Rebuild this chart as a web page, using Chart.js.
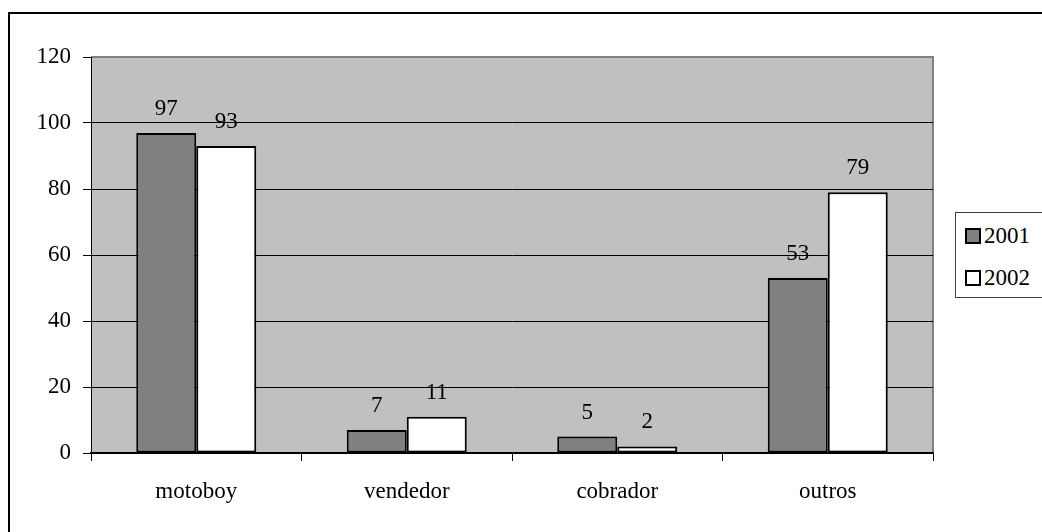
<!DOCTYPE html>
<html>
<head>
<meta charset="utf-8">
<script src="https://cdn.jsdelivr.net/npm/chart.js@4/dist/chart.umd.min.js"></script>
<style>
    html, body { margin: 0; padding: 0; background: #fff; overflow: hidden; }
    #wrap { position: relative; width: 1042px; height: 532px; }
    #frame {
        position: absolute; left: 8px; top: 12px; width: 1100px; height: 600px;
        border: 2px solid #000;
    }
    #chart { position: absolute; left: 0; top: 0; }
    #legend {
        position: absolute; left: 955px; top: 212px; width: 120px; height: 84px;
        border: 1px solid #404040; background: #fff;
        font-family: "Liberation Serif"; font-size: 23px; color: #000;
    }
    .item { position: absolute; left: 9px; height: 24px; line-height: 24px; white-space: nowrap; }
    .swatch {
        display: inline-block; width: 12px; height: 12px; border: 2px solid #000;
        vertical-align: middle; margin-right: 3px; position: relative; top: -2px;
    }
</style>
</head>
<body>
<div id="wrap">
    <div id="frame"></div>
    <canvas id="chart" width="1042" height="532"></canvas>
    <div id="legend"></div>
</div>
<script>
// Chart data
const categories = ['motoboy', 'vendedor', 'cobrador', 'outros'];
const seriesNames = ['2001', '2002'];
const values2001 = [97, 7, 5, 53];
const values2002 = [93, 11, 2, 79];
const seriesColors = ['#808080', '#ffffff'];

const yMin = 0;
const yMax = 120;
const yStep = 20;

const FONT = '"Liberation Serif"';

// Gray plot background with gray top/right edge
const plotBackground = {
    id: 'plotBackground',
    beforeDraw(chart) {
        const { ctx, chartArea: a } = chart;
        ctx.save();
        ctx.fillStyle = '#c0c0c0';
        ctx.fillRect(a.left, a.top, a.right - a.left, a.bottom - a.top);
        ctx.strokeStyle = '#808080';
        ctx.lineWidth = 2;
        ctx.beginPath();
        ctx.moveTo(a.left, a.top);
        ctx.lineTo(a.right, a.top);
        ctx.lineTo(a.right, a.bottom);
        ctx.stroke();
        ctx.restore();
    }
};

// Value labels above each bar
const valueLabels = {
    id: 'valueLabels',
    afterDatasetsDraw(chart) {
        const ctx = chart.ctx;
        ctx.save();
        ctx.font = '23px ' + FONT;
        ctx.fillStyle = '#000';
        ctx.textAlign = 'center';
        ctx.textBaseline = 'alphabetic';
        chart.data.datasets.forEach((ds, i) => {
            chart.getDatasetMeta(i).data.forEach((bar, j) => {
                ctx.fillText(String(ds.data[j]), bar.x, bar.y - 18);
            });
        });
        ctx.restore();
    }
};

const chart = new Chart(document.getElementById('chart'), {
    type: 'bar',
    data: {
        labels: categories,
        datasets: [
            {
                label: seriesNames[0],
                data: values2001,
                backgroundColor: seriesColors[0],
                borderColor: '#000',
                borderWidth: 2,
                borderSkipped: false
            },
            {
                label: seriesNames[1],
                data: values2002,
                backgroundColor: seriesColors[1],
                borderColor: '#000',
                borderWidth: 2,
                borderSkipped: false
            }
        ]
    },
    options: {
        responsive: false,
        animation: false,
        devicePixelRatio: 1,
        layout: { padding: { left: 0, right: 109, top: 57, bottom: 0 } },
        datasets: { bar: { categoryPercentage: 0.57, barPercentage: 1 } },
        plugins: {
            legend: { display: false },
            tooltip: { enabled: false }
        },
        scales: {
            x: {
                afterFit: s => { s.height = 79; },
                grid: {
                    offset: true,
                    drawOnChartArea: false,
                    drawTicks: true,
                    tickLength: 8,
                    tickColor: '#000'
                },
                border: { color: '#000', width: 1.5 },
                ticks: {
                    color: '#000',
                    padding: 17,
                    font: { family: FONT, size: 23 }
                }
            },
            y: {
                min: yMin,
                max: yMax,
                afterFit: s => { s.width = 91; },
                grid: {
                    color: ctx => (ctx.tick && ctx.tick.value === yMax ? 'rgba(0,0,0,0)' : '#000'),
                    tickColor: '#000',
                    tickLength: 8,
                    lineWidth: 1
                },
                border: { color: '#000', width: 1 },
                ticks: {
                    stepSize: yStep,
                    color: '#000',
                    padding: 12,
                    font: { family: FONT, size: 23 }
                }
            }
        }
    },
    plugins: [plotBackground, valueLabels]
});

// HTML legend built from the chart's datasets
const legend = document.getElementById('legend');
chart.data.datasets.forEach((ds, i) => {
    const item = document.createElement('div');
    item.className = 'item';
    item.style.top = (11 + i * 42) + 'px';
    const sw = document.createElement('span');
    sw.className = 'swatch';
    sw.style.background = ds.backgroundColor;
    item.appendChild(sw);
    item.appendChild(document.createTextNode(ds.label));
    legend.appendChild(item);
});
</script>
</body>
</html>
